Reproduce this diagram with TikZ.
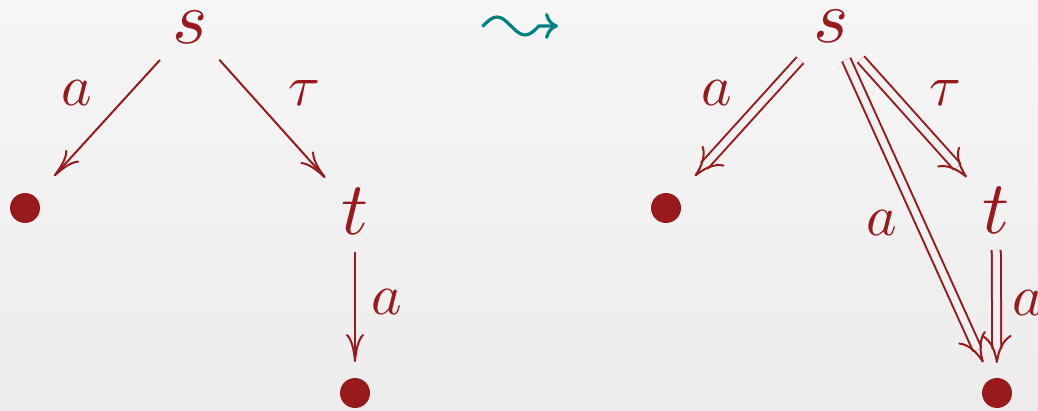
\documentclass[tikz,border=0pt]{standalone}
\usetikzlibrary{arrows.meta,calc}
\definecolor{dred}{RGB}{152,26,29}
\definecolor{teal2}{RGB}{0,128,128}
\definecolor{bgtop}{RGB}{246,246,246}
\definecolor{bgbot}{RGB}{236,236,236}
\definecolor{bgmid}{RGB}{241,241,241}
\tikzset{
  vtx/.style={text=dred, inner sep=0pt, scale=3.75},
  lbl/.style={text=dred, inner sep=0pt, scale=2.9},
  dot/.style={circle, fill=dred, inner sep=0pt, minimum size=15pt},
  arr/.style={draw=dred, line width=1pt, -{To[length=14pt,width=9pt]}},
  dline/.style={draw=dred, line width=1pt, double=bgmid, double distance=3.5pt},
  dtip/.style={draw=dred, line width=1pt, -{To[length=14pt,width=15pt]}},
  squig/.style={draw=teal2, line width=1.6pt, line cap=round, -{To[length=6.5pt,width=13pt]}}
}
\begin{document}
\begin{tikzpicture}[x=0.5pt,y=-0.5pt]
\shade[top color=bgtop, bottom color=bgbot] (0,0) rectangle (1038,411);
\useasboundingbox (0,0) rectangle (1038,411);
% left
\node[vtx] (s1) at (190,27) {$s$};
\node[dot] (b1) at (25,208) {};
\node[vtx] (t1) at (355,211) {$t$};
\node[dot] (b2) at (355,393) {};
\draw[arr, shorten <=22.3pt, shorten >=21.5pt] (s1.center) -- (b1.center);
\draw[arr, shorten <=22pt, shorten >=22.3pt] (s1.center) -- (t1.center);
\draw[arr, shorten <=20.5pt, shorten >=15.5pt] (t1.center) -- (b2.center);
\node[lbl] (l1) at (77,93) {$a$};
\node[lbl] (l2) at (304,93) {$\tau$};
\node[lbl] (l3) at (387,302) {$a$};
% squiggle
\coordinate (w1) at (483,26);
\coordinate (w2) at (558,26);
\draw[squig] (w1) sin ++(14,-9) cos ++(14,9) sin ++(14,9) cos ++(14,-9) -- (w2);
% right
\node[vtx] (s2) at (831,26) {$s$};
\node[dot] (b3) at (666,208) {};
\node[vtx] (t2) at (996,210) {$t$};
\node[dot] (b4) at (997,393) {};
% s2 -> b3
\draw[dline, shorten <=23pt, shorten >=28.5pt] (s2.center) -- (b3.center);
\draw[dtip] ($(b3.center)!22pt!(s2.center)$) -- ($(b3.center)!21.5pt!(s2.center)$);
% s2 -> t2
\draw[dline, shorten <=22.3pt, shorten >=29pt] (s2.center) -- (t2.center);
\draw[dtip] ($(t2.center)!22.5pt!(s2.center)$) -- ($(t2.center)!22pt!(s2.center)$);
% s2 -> b4
\draw[dline, shorten <=18.4pt, shorten >=23.8pt] (s2.center) -- (b4.center);
\draw[dtip] ($(b4.center)!17.3pt!(s2.center)$) -- ($(b4.center)!16.8pt!(s2.center)$);
% t2 -> b4
\draw[dline, shorten <=20pt, shorten >=22pt] (t2.center) -- (b4.center);
\draw[dtip] ($(b4.center)!15.5pt!(t2.center)$) -- ($(b4.center)!15pt!(t2.center)$);
\node[lbl] (l4) at (717,93) {$a$};
\node[lbl] (l5) at (945,93) {$\tau$};
\node[lbl] (l6) at (882,223) {$a$};
\node[lbl] (l7) at (1028,303) {$a$};
\end{tikzpicture}
\end{document}
